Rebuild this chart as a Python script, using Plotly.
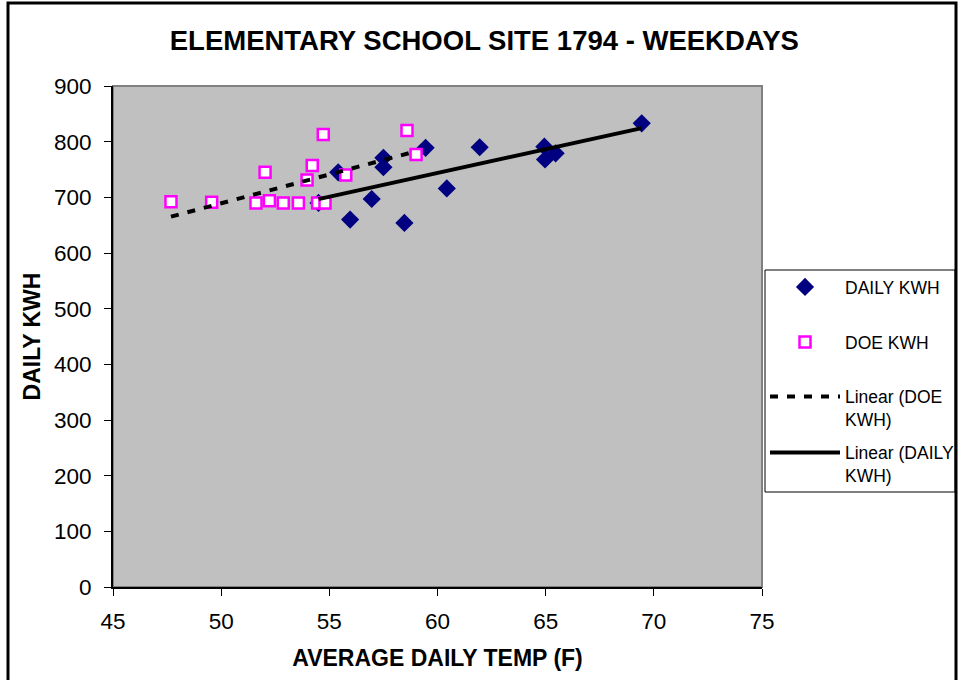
import numpy as np
import plotly.graph_objects as go

# DAILY KWH observations (avg daily temp F, kWh)
daily_temp = [54.5, 55.41, 55.96, 56.96, 57.5, 57.5, 58.47, 59.45, 60.43, 61.95, 64.94, 64.97, 65.46, 69.44]
daily_kwh = [690, 745, 660, 697, 771, 754, 654, 789, 716, 790, 791, 768, 779, 833]

# DOE KWH observations
doe_temp = [47.68, 49.56, 52.03, 51.61, 52.23, 52.87, 53.57, 54.21, 53.97, 54.72, 54.46, 54.80, 55.76, 58.59, 59.01]
doe_kwh = [692, 691, 745, 690, 694, 690, 690, 757, 731, 813, 690, 690, 740, 820, 777]

x_ticks = [45, 50, 55, 60, 65, 70, 75]
y_ticks = [0, 100, 200, 300, 400, 500, 600, 700, 800, 900]

FONT = "Liberation Sans, Arial, sans-serif"

def trend(xs, ys):
    m, b = np.polyfit(xs, ys, 1)
    x0, x1 = min(xs), max(xs)
    return [x0, x1], [m * x0 + b, m * x1 + b]

dtx, dty = trend(daily_temp, daily_kwh)
etx, ety = trend(doe_temp, doe_kwh)

fig = go.Figure()
fig.add_trace(go.Scatter(
    x=daily_temp, y=daily_kwh, mode="markers", name="DAILY KWH",
    marker=dict(symbol="diamond", size=14, color="#000080", line=dict(width=0)),
    legend="legend"))
fig.add_trace(go.Scatter(
    x=doe_temp, y=doe_kwh, mode="markers", name="DOE KWH",
    marker=dict(symbol="square", size=11, color="white", line=dict(color="#FF00FF", width=2.5)),
    legend="legend2"))
fig.add_trace(go.Scatter(
    x=etx, y=ety, mode="lines", name="Linear (DOE<br>KWH)",
    line=dict(color="black", width=4, dash="8px,9px"), legend="legend3"))
fig.add_trace(go.Scatter(
    x=dtx, y=dty, mode="lines", name="Linear (DAILY<br>KWH)",
    line=dict(color="black", width=4), legend="legend4"))

L, R, T, B = 113, 762, 86, 587
W, H = 959, 680
pw, ph = R - L, B - T

def px_x(p):
    return (p - L) / pw

def px_y(p):
    return (B - p) / ph

def leg(ycenter):
    return dict(x=px_x(765), y=px_y(ycenter), xanchor="left", yanchor="middle",
                borderwidth=0, bgcolor="rgba(0,0,0,0)", valign="top",
                font=dict(size=17.5, family=FONT, color="black"), itemwidth=70)

fig.update_layout(
    width=W, height=H,
    margin=dict(l=L, r=W - R, t=T, b=H - B, pad=0, autoexpand=False),
    paper_bgcolor="white", plot_bgcolor="#C0C0C0",
    font=dict(family=FONT, color="black", size=22),
    title=dict(text="<b>ELEMENTARY SCHOOL SITE 1794 - WEEKDAYS</b>",
               font=dict(size=27.5, family=FONT), xref="container", x=0.505,
               xanchor="center", yref="container", y=1 - 40 / H, yanchor="middle"),
    showlegend=True,
    legend=leg(287), legend2=leg(342), legend3=leg(408), legend4=leg(464),
)
fig.update_xaxes(range=[45, 75], tickvals=x_ticks, showgrid=False, zeroline=False,
                 showline=True, linecolor="black", linewidth=2,
                 ticks="outside", ticklen=7, tickcolor="black", tickwidth=1,
                 ticklabelstandoff=6, tickfont=dict(size=22.5, family=FONT),
                 title=dict(text="<b>AVERAGE DAILY TEMP (F)</b>", font=dict(size=23), standoff=17))
fig.update_yaxes(range=[0, 900], tickvals=y_ticks, showgrid=False, zeroline=False,
                 showline=True, linecolor="black", linewidth=2,
                 ticks="outside", ticklen=7, tickcolor="black", tickwidth=1,
                 ticklabelstandoff=8, tickfont=dict(size=22.5, family=FONT),
                 title=dict(text="<b>DAILY KWH</b>", font=dict(size=23), standoff=7))

# plot area border (top/right gray)
fig.add_shape(type="rect", xref="paper", yref="paper", x0=0, x1=1, y0=0, y1=1,
              line=dict(color="#808080", width=2), layer="below")
# legend box
fig.add_shape(type="rect", xref="paper", yref="paper",
              x0=px_x(765), x1=px_x(955), y0=px_y(492), y1=px_y(270),
              line=dict(color="black", width=1), fillcolor="white", layer="above")
# outer chart border
fig.add_shape(type="rect", xref="paper", yref="paper",
              x0=px_x(8), x1=px_x(956), y0=px_y(700), y1=px_y(3),
              line=dict(color="black", width=3), fillcolor="rgba(0,0,0,0)", layer="above")

fig.write_html("out.html")
